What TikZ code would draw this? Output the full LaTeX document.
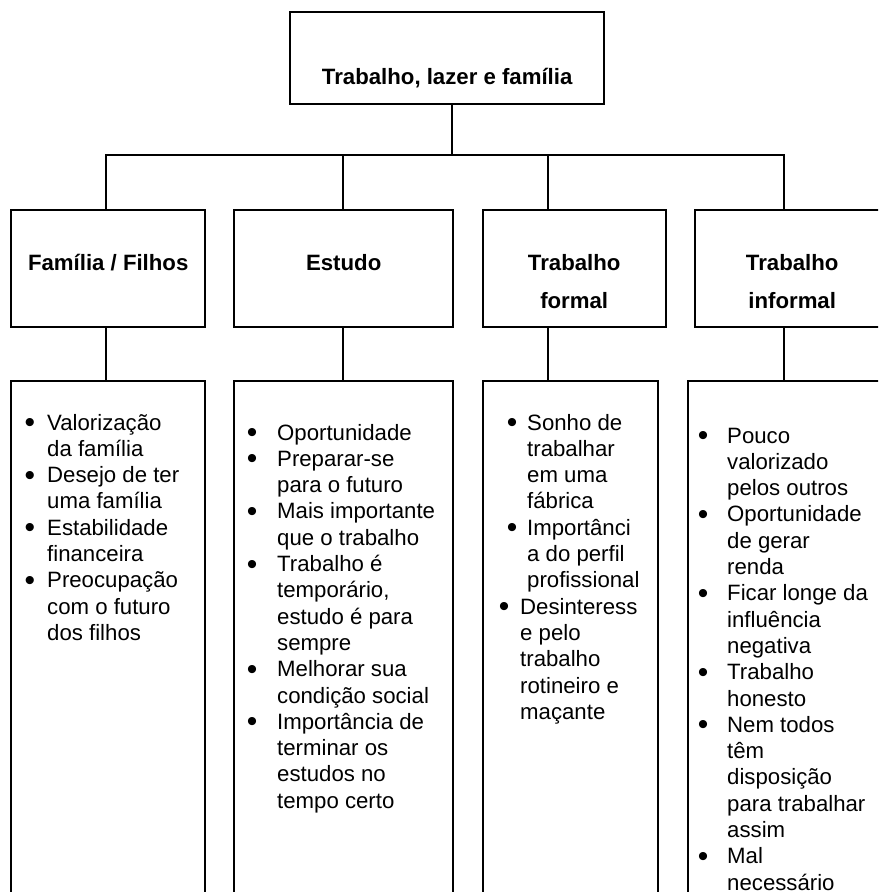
\documentclass[tikz,border=0pt]{standalone}
\usepackage{fontspec}
\setmainfont{Liberation Sans}
\tikzset{
  caixa/.style={draw, inner sep=0pt, anchor=north west},
  cabec/.style={caixa, font=\bfseries\fontsize{11.1}{13.15}\selectfont, text height=30pt, text depth=28.5pt},
  lista/.style={inner sep=0pt, anchor=base west, font=\fontsize{11.1}{13.15}\selectfont},
  bola/.style={inner sep=0pt, anchor=base, font=\fontsize{15}{15}\selectfont, text height=7pt, text depth=0pt}
}
\newcommand{\linhas}[1]{\begin{tabular}[t]{@{}l@{}}#1\end{tabular}}
\newcommand{\duas}[2]{\begin{tabular}[t]{@{}c@{}}#1\\[5.85pt]#2\end{tabular}}

\begin{document}
\begin{tikzpicture}[x=0.5pt,y=-0.5pt,line width=1.2pt]
  \useasboundingbox (0,0) rectangle (878,892);
  \clip (0,0) rectangle (878,892);

  % titulo
  \node[caixa, font=\bfseries\fontsize{11.1}{13.15}\selectfont, minimum width=157pt, text height=36pt, text depth=10pt] (tlf) at (289,11) {Trabalho, lazer e família};

  % categorias
  \node[cabec, minimum width=97pt] (fam) at (10,209) {Família / Filhos};
  \node[cabec, minimum width=109.5pt] (est) at (233,209) {Estudo};
  \node[cabec, minimum width=91.5pt] (tfor) at (481.5,209) {\duas{Trabalho}{formal}};
  \node[cabec, minimum width=97pt] (tinf) at (694,209) {\duas{Trabalho}{informal}};

  % caixas das listas (cortadas em baixo)
  \node[caixa, minimum width=97pt, minimum height=280pt] (famL) at (10,380) {};
  \node[caixa, minimum width=109.5pt, minimum height=280pt] (estL) at (233,380) {};
  \node[caixa, minimum width=87.5pt, minimum height=280pt] (tforL) at (482,380) {};
  \node[caixa, minimum width=150pt, minimum height=280pt] (tinfL) at (687,380) {};

  % ligacoes
  \coordinate (j) at (452,155);
  \foreach \c/\x in {d1/106,d2/343,d3/548,d4/784}
    \coordinate (\c) at (\x,155);
  \draw (tlf.south -| j) -- (j);
  \draw (d1 |- fam.north) -- (d1) -- (d4) -- (d4 |- tinf.north);
  \draw (d2) -- (d2 |- est.north);
  \draw (d3) -- (d3 |- tfor.north);
  \foreach \d/\a/\b in {d1/fam/famL,d2/est/estL,d3/tfor/tforL,d4/tinf/tinfL}
    \draw (\d |- \a.south) -- (\d |- \b.north);

  % familia
  \node[lista] (l1) at (46,430) {\linhas{Valorização\\da família\\Desejo de ter\\uma família\\Estabilidade\\financeira\\Preocupação\\com o futuro\\dos filhos}};
  \foreach \k in {0,2,4,6}
    \node[bola] (b1-\k) at (30,432.6+26.3*\k) {\textbullet};

  % estudo
  \node[lista] (l2) at (276,440) {\linhas{Oportunidade\\Preparar-se\\para o futuro\\Mais importante\\que o trabalho\\Trabalho é\\temporário,\\estudo é para\\sempre\\Melhorar sua\\condição social\\Importância de\\terminar os\\estudos no\\tempo certo}};
  \foreach \k in {0,1,3,5,9,11}
    \node[bola] (b2-\k) at (252,442.6+26.3*\k) {\textbullet};

  % trabalho formal
  \node[lista] (l3a) at (526,430) {\linhas{Sonho de\\trabalhar\\em uma\\fábrica\\Importânci\\a do perfil\\profissional}};
  \node[lista] (l3b) at (519,614.1) {\linhas{Desinteress\\e pelo\\trabalho\\rotineiro e\\maçante}};
  \foreach \k in {0,4}
    \node[bola] (b3-\k) at (512,432.6+26.3*\k) {\textbullet};
  \node[bola] (b3-7) at (504,616.7) {\textbullet};

  % trabalho informal
  \node[lista] (l4) at (726,443) {\linhas{Pouco\\valorizado\\pelos outros\\Oportunidade\\de gerar\\renda\\Ficar longe da\\influência\\negativa\\Trabalho\\honesto\\Nem todos\\têm\\disposição\\para trabalhar\\assim\\Mal\\necessário}};
  \foreach \k in {0,3,6,9,11,16}
    \node[bola] (b4-\k) at (703,445.6+26.3*\k) {\textbullet};
\end{tikzpicture}
\end{document}
